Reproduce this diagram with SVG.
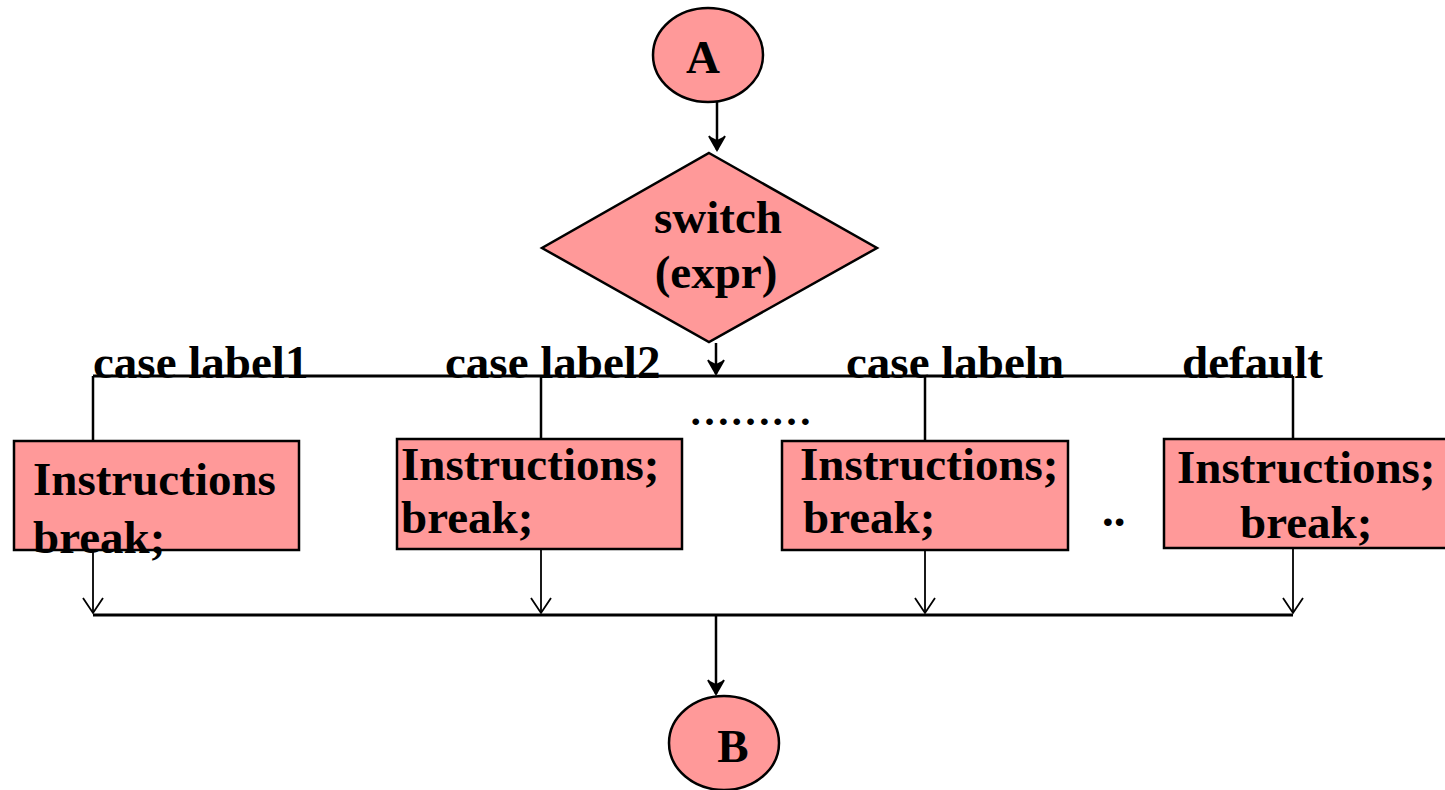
<svg xmlns="http://www.w3.org/2000/svg" width="1445" height="790" viewBox="0 0 1445 790">
  <style>
    .shape { fill: #FF9999; stroke: #000; stroke-width: 2.5; }
    .t { font-family: "Liberation Serif", "Times New Roman", serif; font-weight: bold; font-size: 47px; fill: #000; }
    .mid { text-anchor: middle; }
    .dots { font-size: 41px; }
    .bus { stroke: #000; stroke-width: 3; fill: none; }
    .flow { stroke: #000; stroke-width: 2.5; fill: none; }
    .thin { stroke: #000; stroke-width: 1.8; fill: none; }
  </style>
  <defs>
    <marker id="dart" markerUnits="userSpaceOnUse" markerWidth="20" markerHeight="20" viewBox="-16 -10 18 20" refX="0" refY="0" orient="auto">
      <path d="M-14,-8 L0,0 L-14,8 L-10,0 z" fill="#000"/>
      <path d="M-14,-8 L0,0 L-14,8" fill="none" stroke="#000" stroke-width="2"/>
    </marker>
    <marker id="vee" markerUnits="userSpaceOnUse" markerWidth="24" markerHeight="24" viewBox="-17 -12 19 24" refX="0" refY="0" orient="auto">
      <path d="M-15,-10 L0,0 L-15,10" fill="none" stroke="#000" stroke-width="1.8"/>
    </marker>
  </defs>

  <!-- connectors -->
  <g id="connectors">
    <line class="flow" x1="717" y1="102" x2="717" y2="150" marker-end="url(#dart)"/>
    <line class="flow" x1="716" y1="343" x2="716" y2="374" marker-end="url(#dart)"/>
    <line class="bus" x1="93" y1="376" x2="1293" y2="376"/>
    <line class="flow" x1="93" y1="376" x2="93" y2="441"/>
    <line class="flow" x1="541" y1="376" x2="541" y2="439"/>
    <line class="flow" x1="925" y1="376" x2="925" y2="441"/>
    <line class="flow" x1="1293" y1="376" x2="1293" y2="439"/>
    <line class="thin" x1="93" y1="550" x2="93" y2="613" marker-end="url(#vee)"/>
    <line class="thin" x1="541" y1="549" x2="541" y2="613" marker-end="url(#vee)"/>
    <line class="thin" x1="925" y1="550" x2="925" y2="613" marker-end="url(#vee)"/>
    <line class="thin" x1="1293" y1="548" x2="1293" y2="613" marker-end="url(#vee)"/>
    <line class="bus" x1="93" y1="615" x2="1293" y2="615"/>
    <line class="flow" x1="716" y1="615" x2="716" y2="694" marker-end="url(#dart)"/>
  </g>

  <!-- branch labels -->
  <g id="labels">
    <text class="t" x="93" y="378">case label1</text>
    <text class="t" x="445" y="378">case label2</text>
    <text class="t" x="846" y="378">case labeln</text>
    <text class="t" x="1182" y="378">default</text>
    <text class="t dots" x="689" y="425">………</text>
    <text class="t" x="1102" y="526">..</text>
  </g>

  <g id="start">
    <ellipse class="shape" cx="708" cy="55" rx="55" ry="47"/>
    <text class="t mid" x="703" y="73">A</text>
  </g>

  <g id="switch">
    <polygon class="shape" points="709,153 877,248 709,342 542,248"/>
    <text class="t mid" x="718" y="233">switch</text>
    <text class="t mid" x="716" y="288">(expr)</text>
  </g>

  <g id="case1">
    <rect class="shape" x="14" y="441" width="285" height="109"/>
    <text class="t" x="33" y="495">Instructions</text>
    <text class="t" x="33" y="553">break;</text>
  </g>

  <g id="case2">
    <rect class="shape" x="397" y="439" width="285" height="110"/>
    <text class="t" x="401" y="480">Instructions;</text>
    <text class="t" x="401" y="533">break;</text>
  </g>

  <g id="casen">
    <rect class="shape" x="782" y="441" width="286" height="109"/>
    <text class="t" x="800" y="480">Instructions;</text>
    <text class="t" x="803" y="533">break;</text>
  </g>

  <g id="default">
    <rect class="shape" x="1164" y="439" width="286" height="109"/>
    <text class="t" x="1177" y="483">Instructions;</text>
    <text class="t" x="1240" y="538">break;</text>
  </g>

  <g id="end">
    <ellipse class="shape" cx="724" cy="743" rx="55" ry="47"/>
    <text class="t mid" x="733" y="762">B</text>
  </g>
</svg>
